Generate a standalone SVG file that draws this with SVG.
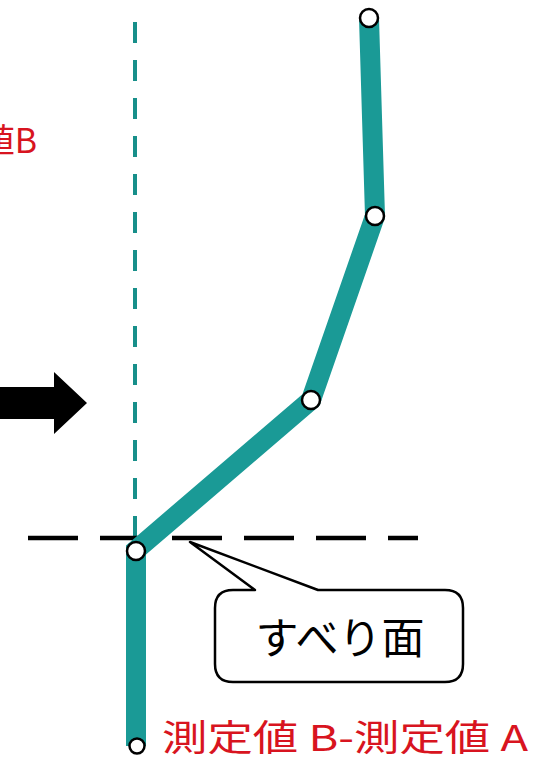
<svg xmlns="http://www.w3.org/2000/svg" width="540" height="762" viewBox="0 0 540 762">
<style>
.red{fill:#d81420;font-family:"Noto Sans CJK JP","Liberation Sans",sans-serif;}
.pt{fill:#fff;stroke:#000;stroke-width:2.5;}
</style>
<rect width="540" height="762" fill="#fff"/>
<g id="connectors">
<line x1="135" y1="22" x2="135" y2="545" stroke="#178f8a" stroke-width="4" stroke-dasharray="21 17"/>
<line x1="28" y1="538" x2="418" y2="538" stroke="#000" stroke-width="4.5" stroke-dasharray="50 22"/>
<polyline points="369,18 375,216 311,400 136,550 136,746" fill="none" stroke="#1a9a96" stroke-width="20" stroke-linejoin="miter"/>
</g>
<g id="points">
<circle class="pt" cx="369" cy="18" r="9"/>
<circle class="pt" cx="375" cy="216" r="9"/>
<circle class="pt" cx="311" cy="400" r="9"/>
<circle class="pt" cx="136" cy="551" r="9"/>
<circle class="pt" cx="137" cy="746" r="7.5"/>
</g>
<g id="arrow">
<polygon points="0,387 54,387 54,372 87,403 54,434 54,419 0,419" fill="#000"/>
</g>
<g id="callout">
<path d="M233,590 L255,590 L190,542 L318,590 L445,590 Q463,590 463,608 L463,664 Q463,682 445,682 L233,682 Q215,682 215,664 L215,608 Q215,590 233,590 Z" fill="#fff" stroke="#000" stroke-width="2.5" stroke-linejoin="round"/>
<text x="340" y="654" text-anchor="middle" font-family="Noto Sans CJK JP, sans-serif" font-size="43" fill="#000">すべり面</text>
</g>
<g id="labels">
<text class="red" x="37" y="153" text-anchor="end" font-size="34">値B</text>
<text class="red" x="162" y="751" font-size="36" textLength="366" lengthAdjust="spacingAndGlyphs">測定値 B-測定値 A</text>
</g>
</svg>
